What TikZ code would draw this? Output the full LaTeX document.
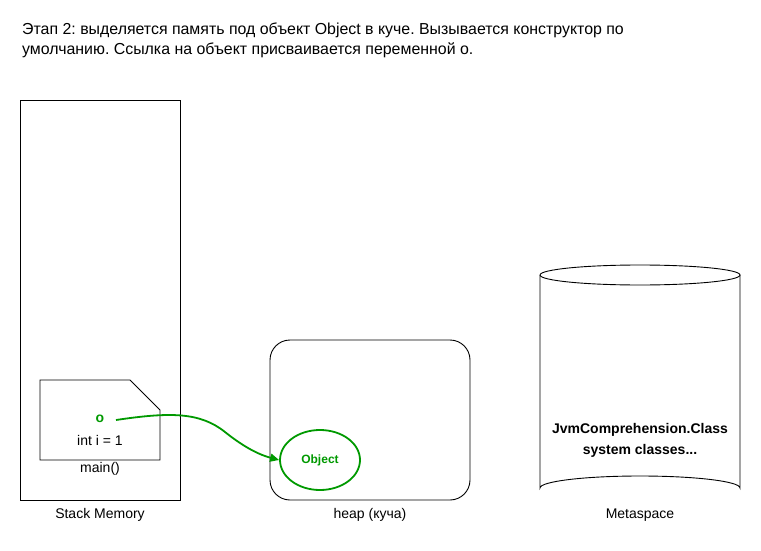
\documentclass[tikz,border=0pt]{standalone}
\usepackage{fontspec}
\setmainfont{Liberation Sans}
\usetikzlibrary{shapes.geometric,arrows.meta}
\definecolor{grn}{HTML}{009900}
\frenchspacing
\tikzset{
  lbl/.style={font=\fontsize{14}{16}\selectfont, inner sep=0pt},
  box/.style={draw=black, line width=0.9pt},
  gline/.style={draw=grn, line width=1.8pt},
}
\begin{document}
\begin{tikzpicture}[x=1pt,y=-1pt]
\useasboundingbox (0,0) rectangle (761,551);
% title
\node[anchor=west, align=left, inner sep=0pt, font=\fontsize{15.9}{20}\selectfont] (title) at (22,40)
  {Этап 2: выделяется память под объект Object в куче. Вызывается конструктор по\\умолчанию. Ссылка на объект присваивается переменной о.};
% stack memory
\node[box, minimum width=160, minimum height=400, inner sep=0pt] (stack) at (100,300) {};
\node[lbl] (stacklbl) at (100,515) {Stack Memory};
% main frame (card)
\draw[box] (40,380) -- (130,380) -- (160,410) -- (160,460) -- (40,460) -- cycle;
\node[lbl, font=\fontsize{14}{16}\selectfont\bfseries, text=grn] (o) at (100,419) {o};
\node[lbl] (inti) at (100,440) {int i = 1};
\node[lbl] (mainlbl) at (100,469) {main()};
% heap
\node[box, rounded corners=20, minimum width=200, minimum height=160, inner sep=0pt] (heap) at (370,420) {};
\node[lbl] (heaplbl) at (370,515) {heap (куча)};
% object
\node[ellipse, gline, minimum width=80, minimum height=60, inner sep=0pt, text=grn, font=\fontsize{12}{14}\selectfont\bfseries] (obj) at (320,460) {Object};
% arrow
\coordinate (start) at (116,420);
\draw[gline, -{Triangle[length=9pt,width=8pt]}] (start) .. controls (170,412) and (200,412) .. (225,432) .. controls (245,448) and (260,455) .. (obj.west);
% metaspace cylinder
\draw[box] (540,275) -- (540,488) arc[start angle=180, end angle=360, x radius=100, y radius=12] -- (740,275);
\draw[box] (640,275) ellipse[x radius=100, y radius=10];
\node[inner sep=0pt, align=center, font=\fontsize{14}{21}\selectfont\bfseries] (meta) at (640,440) {JvmComprehension.Class\\system classes...};
\node[lbl] (metalbl) at (640,515) {Metaspace};
\end{tikzpicture}
\end{document}
